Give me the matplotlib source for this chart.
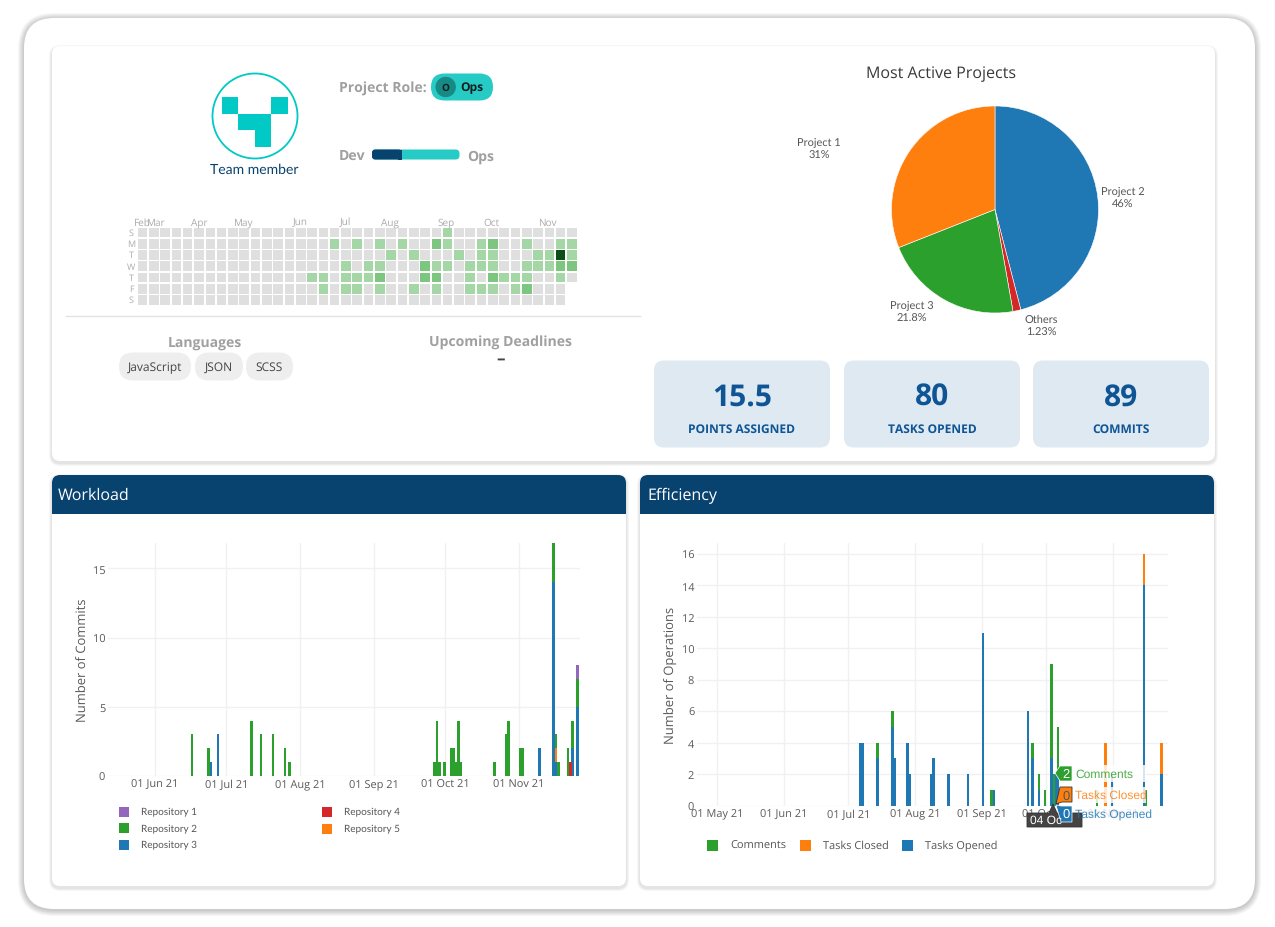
import matplotlib
matplotlib.use("Agg")
import matplotlib.dates as mdates
import matplotlib.pyplot as plt
import numpy as np
import pandas as pd
from matplotlib.patches import Circle, FancyBboxPatch, Polygon, Rectangle

W, H = 1275, 928
NAVY = "#08426F"
TEAL = "#00C9C6"
TEAL_PILL = "#26CBC5"
GREY_HEAD = "#A0A0A0"
CARD = "#DEE9F2"
CARD_INK = "#0F5596"
TICK = "#5A5A5A"
GRID = "#F1F1F1"
BLUE = "#1F77B4"
ORANGE = "#FF7F0E"
GREEN = "#2CA02C"
RED = "#D62728"
PURPLE = "#9467BD"

plt.rcParams["font.family"] = ["Open Sans", "DejaVu Sans"]
plt.rcParams["text.hinting"] = "no_hinting"
plt.rcParams["text.hinting_factor"] = 1

# contribution calendar, one string per weekday, '.' = no cell
cal_days = ["S", "M", "T", "W", "T", "F", "S"]
cal_rows = [
    "000000000000000000000000000100000000000",
    "000000000000000001010101002100120010011",
    "000000000000000000000010100010110001141",
    "000000000000000000101100021101110011122",
    "000000000000000110111200022001021110010",
    "0000000000000000" + "1011010010100111012000.",
    "00000000000000000000000000000000000000.",
]
cal_months = ["Feb", "Mar", "Apr", "May", "Jun", "Jul", "Aug", "Sep", "Oct", "Nov"]
cal_month_px = [141, 155, 199, 243, 300, 345, 390, 446, 491, 547]
cal_colors = {"0": "#DFDFDF", "1": "#A5D6A5", "2": "#7DC680", "4": "#0E4F17"}

# pie
pie_labels = ["Project 2", "Others", "Project 3", "Project 1"]
pie_values = [46.0, 1.23, 21.8, 31.0]
pie_texts = ["46%", "1.23%", "21.8%", "31%"]
pie_colors = [BLUE, RED, GREEN, ORANGE]

# cards
card_values = ["15.5", "80", "89"]
card_names = ["POINTS ASSIGNED", "TASKS OPENED", "COMMITS"]

languages = ["JavaScript", "JSON", "SCSS"]
dev_share = 0.34

# workload
commit_dates = [
    "2021-06-16", "2021-06-23", "2021-06-24", "2021-06-27", "2021-07-11", "2021-07-15",
    "2021-07-20", "2021-07-25", "2021-07-27", "2021-09-26", "2021-09-27", "2021-09-28",
    "2021-09-30", "2021-10-03", "2021-10-04", "2021-10-05", "2021-10-06", "2021-10-07",
    "2021-10-21", "2021-10-26", "2021-10-27", "2021-11-01", "2021-11-02", "2021-11-09",
    "2021-11-15", "2021-11-16", "2021-11-17", "2021-11-21", "2021-11-22", "2021-11-23",
    "2021-11-25",
]
repo_3 = [0, 0, 1, 3, 0, 0, 0, 0, 0, 0, 0, 0, 0, 0, 0, 0, 0, 0, 0, 0, 0, 0, 0, 2, 14, 1, 0, 0, 0, 2, 5]
repo_4 = [0, 0, 0, 0, 0, 0, 0, 0, 0, 0, 0, 0, 0, 0, 0, 0, 0, 0, 0, 0, 0, 0, 0, 0, 0, 0, 0, 0, 1, 0, 0]
repo_5 = [0, 0, 0, 0, 0, 0, 0, 0, 0, 0, 0, 0, 0, 0, 0, 0, 0, 0, 0, 0, 0, 0, 0, 0, 0, 1, 0, 0, 0, 0, 0]
repo_2 = [3, 2, 0, 0, 4, 3, 3, 2, 1, 1, 4, 1, 1, 2, 2, 1, 4, 1, 1, 3, 4, 2, 2, 0, 3, 1, 1, 2, 0, 2, 2]
repo_1 = [0, 0, 0, 0, 0, 0, 0, 0, 0, 0, 0, 0, 0, 0, 0, 0, 0, 0, 0, 0, 0, 0, 0, 0, 0, 0, 0, 0, 0, 0, 1]

# efficiency
ops_dates = [
    "2021-07-06", "2021-07-07", "2021-07-14", "2021-07-21", "2021-07-22", "2021-07-28",
    "2021-07-29", "2021-08-08", "2021-08-09", "2021-08-16", "2021-08-25", "2021-09-01",
    "2021-09-05", "2021-09-06", "2021-09-22", "2021-09-24", "2021-09-27", "2021-09-30",
    "2021-10-03", "2021-10-04", "2021-10-05", "2021-10-06", "2021-10-24", "2021-10-28",
    "2021-10-31", "2021-11-15", "2021-11-16", "2021-11-23",
]
tasks_opened = [4, 4, 3, 5, 3, 4, 2, 2, 3, 2, 2, 11, 0, 1, 6, 3, 1, 0, 3, 0, 2, 2, 0, 0, 2, 14, 0, 2]
tasks_closed = [0, 0, 0, 0, 0, 0, 0, 0, 0, 0, 0, 0, 0, 0, 0, 0, 0, 0, 0, 0, 0, 0, 0, 4, 0, 2, 0, 2]
comments = [0, 0, 1, 1, 0, 0, 0, 0, 0, 0, 0, 0, 1, 0, 0, 1, 1, 1, 6, 2, 0, 3, 1, 0, 0, 0, 1, 0]


def px_axes(left, top, right, bottom, **kw):
    # everything sits one pixel lower than the measured coordinates
    top, bottom = top + 1, bottom + 1
    return fig.add_axes([left / W, 1 - bottom / H, (right - left) / W, (bottom - top) / H], **kw)


def rbox(ax, l, t, r, b, rad, **kw):
    box = FancyBboxPatch((l + rad, t + rad), r - l - 2 * rad, b - t - 2 * rad,
                         boxstyle=f"round,pad={rad},rounding_size={rad}", **kw)
    ax.add_patch(box)
    return box


def panel(ax, l, t, r, b, rad, spread, strength, drop):
    # soft shadow from stacked translucent boxes, a little lower than the box
    for i in range(spread, 0, -1):
        rbox(ax, l - i, t - i + drop, r + i, b + i + drop, rad + i, fc="black", ec="none", alpha=strength)
    rbox(ax, l, t, r, b, rad, fc="white", ec="none")


def style_chart(ax, ylabel, yticks):
    ax.patch.set_alpha(0)
    for s in ax.spines.values():
        s.set_visible(False)
    ax.set_axisbelow(True)
    ax.grid(True, color=GRID, linewidth=1)
    ax.xaxis_date()
    ax.xaxis.set_major_locator(mdates.MonthLocator())
    ax.xaxis.set_major_formatter(mdates.DateFormatter("%d %b %y"))
    ax.set_yticks(yticks)
    ax.tick_params(length=0, labelsize=8, labelcolor=TICK, pad=2)
    ax.set_ylabel(ylabel, fontsize=9, color=TICK)


def stacked(ax, dates, series, width):
    x = mdates.date2num(pd.to_datetime(dates))
    bottom = np.zeros(len(x))
    for vals, color in series:
        ax.bar(x, vals, width=width, bottom=bottom, color=color, align="edge", linewidth=0)
        bottom += np.array(vals)


fig = plt.figure(figsize=(W / 100, H / 100), dpi=100, facecolor="white")
bg = px_axes(0, 0, W, H)
bg.set_xlim(0, W)
bg.set_ylim(H, 0)
bg.axis("off")

panel(bg, 24, 18, 1255, 909, 30, 6, 0.035, 1)
panel(bg, 52, 46, 1215, 461, 8, 3, 0.035, 2)
panel(bg, 52, 475, 626, 886, 8, 3, 0.035, 2)
panel(bg, 640, 475, 1214, 886, 8, 3, 0.035, 2)

# card headers
for l, r, name, tx in [(52, 626, "Workload", 58), (640, 1214, "Efficiency", 647)]:
    rbox(bg, l, 475, r, 500, 8, fc=NAVY, ec="none")
    bg.add_patch(Rectangle((l, 490), r - l, 24, fc=NAVY, ec="none"))
    bg.text(tx, 494.5, name, color="white", fontsize=11.5, va="center")

# identicon
bg.add_patch(Circle((255, 116), 42.5, fc="white", ec=TEAL, lw=1.3))
for l, t, r, b in [(221.7, 97, 238.3, 113.5), (271.3, 97, 288, 113.5),
                   (238.3, 113.5, 254.7, 130), (254.7, 113.5, 271.3, 146.5)]:
    bg.add_patch(Rectangle((l, t), r - l, b - t, fc=TEAL, ec="none"))
bg.text(254.5, 168.5, "Team member", color=NAVY, fontsize=10.2, family=["Lato"], ha="center", va="center")

# role pill and dev/ops bar
bg.text(339, 87.5, "Project Role:", color=GREY_HEAD, fontsize=10, fontweight="bold", va="center")
rbox(bg, 431, 73.5, 493, 100.5, 13.5, fc=TEAL_PILL, ec="none")
bg.add_patch(Circle((445.7, 87), 10.2, fc="#178A85", ec="none"))
bg.text(445.7, 87, "O", color="#102020", fontsize=7.5, fontweight="bold", ha="center", va="center")
bg.text(472, 87, "Ops", color="#102020", fontsize=8.3, fontweight="bold", ha="center", va="center")
bg.text(339, 155.5, "Dev", color=GREY_HEAD, fontsize=10, fontweight="bold", va="center")
bg.text(467, 155.5, "Ops", color=GREY_HEAD, fontsize=10, fontweight="bold", va="center")
rbox(bg, 372, 149.5, 459.5, 159.5, 4, fc=TEAL_PILL, ec="none")
split = 372 + dev_share * 87.5
rbox(bg, 372, 149.5, split, 159.5, 3, fc=NAVY, ec="none")
bg.add_patch(Rectangle((split - 4, 149.5), 4, 10, fc=NAVY, ec="none"))

# calendar
cx0, cy0, step_x, step_y, cell = 137.7, 227.7, 11.3, 11.25, 9.6
for r, row in enumerate(cal_rows):
    for c, level in enumerate(row):
        if level == ".":
            continue
        bg.add_patch(Rectangle((cx0 + c * step_x, cy0 + r * step_y), cell, cell,
                               fc=cal_colors[level], ec="none"))
    bg.text(131, cy0 + r * step_y + cell / 2, cal_days[r], color="#ABABAB", fontsize=6.8, ha="center", va="center")
for name, x in zip(cal_months, cal_month_px):
    bg.text(x, 222, name, color="#ABABAB", fontsize=7, ha="center", va="center")

bg.plot([66, 640], [316, 316], color="#E3E3E3", lw=1)
bg.text(205, 342, "Languages", color=GREY_HEAD, fontsize=10, fontweight="bold", ha="center", va="center")
bg.text(500, 342, "Upcoming Deadlines", color=GREY_HEAD, fontsize=10, fontweight="bold", ha="center", va="center")
bg.text(500.5, 358.5, "–", color="#444444", fontsize=12, fontweight="bold", ha="center", va="center")
for name, (l, r) in zip(languages, [(119, 191), (195, 243), (246, 293)]):
    rbox(bg, l, 352.5, r, 380.5, 14, fc="#EEEEEE", ec="none")
    bg.text((l + r) / 2, 367, name, color="#444444", fontsize=8.3, ha="center", va="center")

# stat cards
for (l, r), val, name in zip([(654, 830), (844, 1020), (1033, 1209)], card_values, card_names):
    rbox(bg, l, 360.5, r, 447.5, 10, fc=CARD, ec="none")
    bg.text((l + r) / 2, 397, val, color=CARD_INK, fontsize=21.5, fontweight="bold", ha="center", va="center")
    bg.text((l + r) / 2, 429, name, color=CARD_INK, fontsize=8.8, fontweight="bold", ha="center", va="center")

# pie
bg.text(941, 73, "Most Active Projects", color="#3A3A3A", fontsize=11.3, ha="center", va="center")
pie_ax = px_axes(995 - 103.5, 209.5 - 103.5, 995 + 103.5, 209.5 + 103.5)
pie_ax.pie(pie_values, colors=pie_colors, startangle=90, counterclock=False, radius=1,
           wedgeprops={"linewidth": 0.4, "edgecolor": "white"})
pie_ax.set_xlim(-1, 1)
pie_ax.set_ylim(-1, 1)
for (x, y), name, pct in zip([(1123, 190.5), (1041, 318.5), (912, 304.5), (819, 141.5)], pie_labels, pie_texts):
    bg.text(x, y, name, color="#555555", fontsize=7.6, family=["Lato"], ha="center", va="center")
    bg.text(x, y + 13, pct, color="#555555", fontsize=7.6, family=["Lato"], ha="center", va="center")

# workload chart
ax1 = px_axes(108, 542.5, 580, 776)
stacked(ax1, commit_dates, [(repo_3, BLUE), (repo_4, RED), (repo_5, ORANGE), (repo_2, GREEN), (repo_1, PURPLE)], 1.1)
style_chart(ax1, "Number of Commits", [0, 5, 10, 15])
ax1.set_xlim(mdates.date2num(pd.Timestamp("2021-05-12 06:00")), mdates.date2num(pd.Timestamp("2021-11-26 14:00")))
ax1.set_ylim(0, 16.86)
ax1.yaxis.set_label_coords((90 - 108) / 472, 0.5)

for x, y, color, name in [(119, 811.5, PURPLE, "Repository 1"), (119, 828, GREEN, "Repository 2"),
                          (119, 844.5, BLUE, "Repository 3"), (322, 811.5, RED, "Repository 4"),
                          (322, 828.5, ORANGE, "Repository 5")]:
    bg.add_patch(Rectangle((x, y - 5), 10, 10, fc=color, ec="none"))
    bg.text(x + 22, y, name, color="#555555", fontsize=7.3, family=["Lato"], va="center")

# efficiency chart
ax2 = px_axes(697, 542.5, 1168, 805.5)
stacked(ax2, ops_dates, [(tasks_opened, BLUE), (tasks_closed, ORANGE), (comments, GREEN)], 1.15)
style_chart(ax2, "Number of Operations", list(range(0, 17, 2)))
ax2.set_xlim(mdates.date2num(pd.Timestamp("2021-04-21 14:00")), mdates.date2num(pd.Timestamp("2021-11-26 17:00")))
ax2.set_ylim(0, 16.73)
ax2.yaxis.set_label_coords((678 - 697) / 471, 0.5)

for x, color, name in [(707, GREEN, "Comments"), (800, ORANGE, "Tasks Closed"), (902, BLUE, "Tasks Opened")]:
    bg.add_patch(Rectangle((x, 839.5), 11, 11, fc=color, ec="none"))
    bg.text(x + 23, 845, name, color="#555555", fontsize=7.8, va="center")

# hover labels on top of the efficiency bars
top = px_axes(0, 0, W, H)
top.set_xlim(0, W)
top.set_ylim(H, 0)
top.axis("off")
top.patch.set_alpha(0)
sans = ["Liberation Sans"]
for y0, y1, name, color in [(765, 782, "Comments", GREEN), (787, 803, "Tasks Closed", ORANGE), (806, 822, "Tasks Opened", BLUE)]:
    top.add_patch(Rectangle((1072, y0), 74, y1 - y0, fc="white", ec="none", alpha=0.82))
    top.text(1075, (y0 + y1) / 2, name, color=color, fontsize=8.4, family=sans, va="center", alpha=0.85)
top.add_patch(Polygon([(1053, 804), (1057, 813), (1082, 813), (1082, 827), (1027, 827), (1027, 813), (1049, 813)],
                      fc="#444444", ec="#333333", lw=0.6))
top.text(1030, 819.5, "04 Oc", color="white", fontsize=8.8, family=sans, va="center")
top.add_patch(Polygon([(1055, 773), (1060, 766), (1072, 766), (1072, 781), (1060, 781)], fc=GREEN, ec="white", lw=0.5))
top.text(1066, 774, "2", color="white", fontsize=9.5, family=sans, ha="center", va="center")
top.add_patch(Polygon([(1056, 804), (1060, 787), (1072, 787), (1072, 802), (1062, 802)], fc=ORANGE, ec="#333333", lw=0.6))
top.text(1066, 796, "0", color="#555555", fontsize=9.5, family=sans, ha="center", va="center")
top.add_patch(Polygon([(1056, 805), (1061, 806), (1072, 806), (1072, 822), (1061, 822)], fc=BLUE, ec="white", lw=0.5))
top.text(1066.5, 814, "0", color="white", fontsize=9.5, family=sans, ha="center", va="center")

fig.savefig("out.png", dpi=100, facecolor="white")
